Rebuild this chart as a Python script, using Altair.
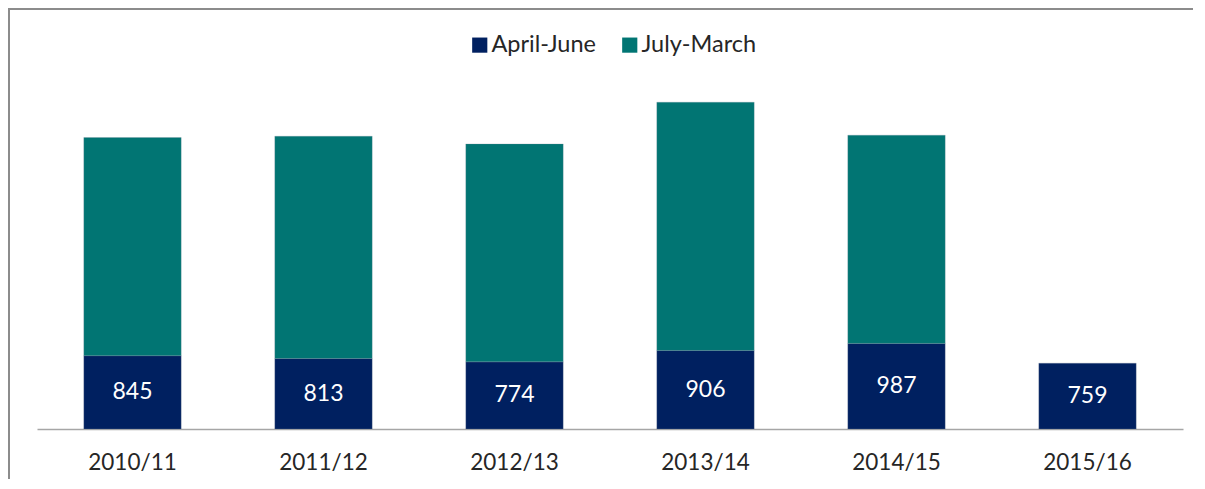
import altair as alt
import pandas as pd

years = ["2010/11", "2011/12", "2012/13", "2013/14", "2014/15", "2015/16"]
april_june = [845, 813, 774, 906, 987, 759]
july_march = [2515, 2562, 2512, 2861, 2400, 0]
series = ["April-June", "July-March"]
colors = ["#002060", "#017573"]

rows = []
for i, y in enumerate(years):
    rows.append({"year": y, "series": series[0], "value": april_june[i], "ord": 0})
    if july_march[i] > 0:
        rows.append({"year": y, "series": series[1], "value": july_march[i], "ord": 1})
df = pd.DataFrame(rows)
lab = pd.DataFrame({"year": years, "aj": april_june})

FONT = "Lato"

x_enc = alt.X("year:N", sort=years, title=None,
              scale=alt.Scale(paddingInner=0.49, paddingOuter=0.245),
              axis=alt.Axis(labelAngle=0, ticks=False, labelFontSize=22.5, labelColor="#262626",
                            labelFont=FONT, labelPadding=22, domainColor="#A6A6A6",
                            domainWidth=1.5))

bars = alt.Chart(df).mark_bar(stroke="#7f8fa0", strokeWidth=0.5, strokeOpacity=0.5).encode(
    x=x_enc,
    y=alt.Y("value:Q", stack="zero", scale=alt.Scale(domain=[0, 4000], nice=False),
            axis=None, title=None),
    color=alt.Color("series:N", scale=alt.Scale(domain=series, range=colors),
                    legend=alt.Legend(title=None, orient="none", legendX=431, legendY=-49,
                                      direction="horizontal", symbolType="square",
                                      symbolSize=230, symbolStrokeWidth=0, labelFontSize=23.5,
                                      labelFont=FONT, labelColor="#262626", labelOffset=0,
                                      columnPadding=22)),
    order=alt.Order("ord:Q", sort="ascending"),
)

texts = alt.Chart(lab).transform_calculate(mid="datum.aj / 2").mark_text(
    color="white", fontSize=23, font=FONT, baseline="middle"
).encode(
    x=alt.X("year:N", sort=years),
    y=alt.Y("mid:Q"),
    text=alt.Text("aj:Q"),
)

frame = alt.Chart(pd.DataFrame({"k": [0]})).mark_rect(
    fill=None, stroke="#8c8c8c", strokeWidth=2
).encode(
    x=alt.value(-28), x2=alt.value(1158), y=alt.value(-73), y2=alt.value(420)
)

chart = alt.layer(frame, bars, texts).properties(
    width=1146, height=347,
    padding={"left": 29, "top": 74, "right": 10, "bottom": 50},
    autosize=alt.AutoSizeParams(type="none"),
).configure(background="white").configure_view(stroke=None)

chart.save("out.html", embed_options={"renderer": "svg", "actions": False})
